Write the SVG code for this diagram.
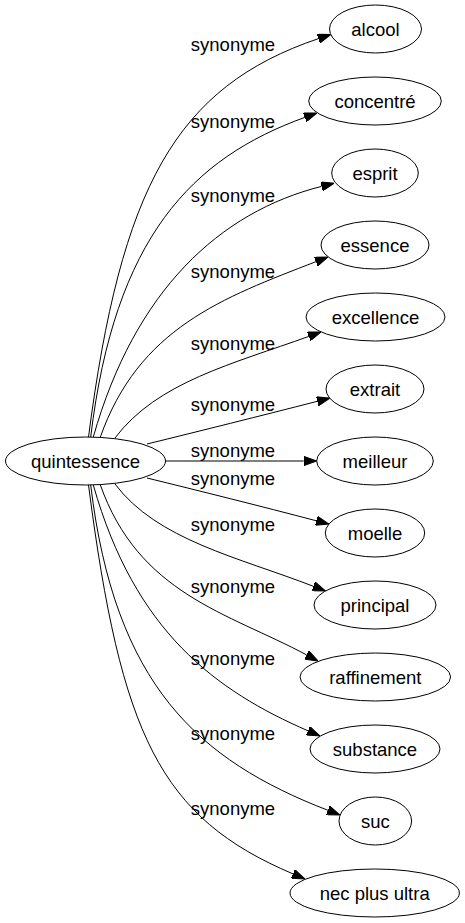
<svg xmlns="http://www.w3.org/2000/svg" width="465" height="923" viewBox="0 0 465 923">
<defs>
<style>
.node ellipse{fill:#ffffff;stroke:#000000;stroke-width:1}
.node text,.lbl{font-family:"Liberation Sans",Arial,sans-serif;font-size:18.5px;fill:#000000;text-anchor:middle}
.edge{fill:none;stroke:#000000;stroke-width:1;marker-end:url(#arr)}
</style>
<marker id="arr" viewBox="0 0 13 9.4" refX="0" refY="4.7" markerWidth="13" markerHeight="9.4" markerUnits="userSpaceOnUse" orient="auto">
<path d="M0,0 L13,4.7 L0,9.4 z" fill="#000000" stroke="#000000" stroke-width="1"/>
</marker>
</defs>
<rect x="0" y="0" width="465" height="923" fill="#ffffff"/>
<g id="connectors">
<path class="edge" d="M88.5,437 C121,187 175.5,87 318.5,38.6"/>
<path class="edge" d="M90.7,437 C114.7,237 192,158.2 304.8,117.4"/>
<path class="edge" d="M93.3,437 C135,290 220,212 321.5,186.4"/>
<path class="edge" d="M100,438 C138.5,328 222.9,297.7 315.9,261.7"/>
<path class="edge" d="M115,438 C157,382 233.6,363.6 308.8,336.4"/>
<path class="edge" d="M147,444 C200,431 260,416 317.4,401.3"/>
<path class="edge" d="M165.5,461 L303.7,461"/>
<path class="edge" d="M147,478 C200,491 260,506 316.4,520.8"/>
<path class="edge" d="M115,484 C157,540 239,557.5 313.4,586.3"/>
<path class="edge" d="M100,484 C138.5,594 227.4,612.6 306.6,654.9"/>
<path class="edge" d="M93.3,485 C135,632 216,690.8 308,730.8"/>
<path class="edge" d="M90.7,485 C114.7,685 197.7,759.9 327.9,810.3"/>
<path class="edge" d="M88.5,485 C121,735 159.6,817.3 293,873.9"/>
<text class="lbl" x="233" y="51">synonyme</text>
<text class="lbl" x="233" y="128">synonyme</text>
<text class="lbl" x="233" y="202">synonyme</text>
<text class="lbl" x="233" y="278">synonyme</text>
<text class="lbl" x="233" y="350">synonyme</text>
<text class="lbl" x="233" y="411">synonyme</text>
<text class="lbl" x="233" y="457">synonyme</text>
<text class="lbl" x="233" y="485">synonyme</text>
<text class="lbl" x="233" y="531">synonyme</text>
<text class="lbl" x="233" y="593">synonyme</text>
<text class="lbl" x="233" y="665">synonyme</text>
<text class="lbl" x="233" y="740">synonyme</text>
<text class="lbl" x="233" y="815">synonyme</text>
</g>
<g id="quintessence" class="node"><ellipse cx="85.5" cy="461" rx="80" ry="24"/><text x="85.5" y="467.5">quintessence</text></g>
<g id="alcool" class="node"><ellipse cx="375.5" cy="29" rx="46" ry="24"/><text x="375.5" y="35.5">alcool</text></g>
<g id="concentre" class="node"><ellipse cx="375" cy="101" rx="66.3" ry="24"/><text x="375" y="107.5">concentré</text></g>
<g id="esprit" class="node"><ellipse cx="375" cy="173" rx="43.3" ry="24"/><text x="375" y="179.5">esprit</text></g>
<g id="essence" class="node"><ellipse cx="375" cy="245" rx="54" ry="24"/><text x="375" y="251.5">essence</text></g>
<g id="excellence" class="node"><ellipse cx="375.5" cy="317" rx="69.5" ry="24"/><text x="375.5" y="323.5">excellence</text></g>
<g id="extrait" class="node"><ellipse cx="375" cy="389" rx="49" ry="24"/><text x="375" y="395.5">extrait</text></g>
<g id="meilleur" class="node"><ellipse cx="375" cy="461" rx="58.3" ry="24"/><text x="375" y="467.5">meilleur</text></g>
<g id="moelle" class="node"><ellipse cx="375" cy="533" rx="49.7" ry="24"/><text x="375" y="539.5">moelle</text></g>
<g id="principal" class="node"><ellipse cx="375" cy="605" rx="61" ry="24"/><text x="375" y="611.5">principal</text></g>
<g id="raffinement" class="node"><ellipse cx="375.3" cy="677" rx="75.3" ry="24"/><text x="375.3" y="683.5">raffinement</text></g>
<g id="substance" class="node"><ellipse cx="375" cy="749" rx="65" ry="24"/><text x="375" y="755.5">substance</text></g>
<g id="suc" class="node"><ellipse cx="375.3" cy="821" rx="36.3" ry="24"/><text x="375.3" y="827.5">suc</text></g>
<g id="necplusultra" class="node"><ellipse cx="374.7" cy="893" rx="84.7" ry="24"/><text x="374.7" y="899.5">nec plus ultra</text></g>
</svg>
